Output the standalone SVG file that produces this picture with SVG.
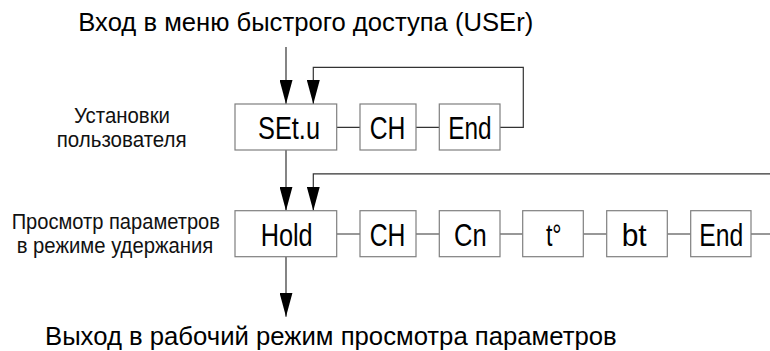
<svg xmlns="http://www.w3.org/2000/svg" width="770" height="351" viewBox="0 0 770 351">
<defs>
<style>
.box{fill:#fff;stroke:#7f7f7f;stroke-width:1.2}
.bt{font-family:"Liberation Sans",Arial,sans-serif;font-size:31.5px;fill:#000;text-anchor:middle}
.lbl{font-family:"Liberation Sans",Arial,sans-serif;font-size:22px;fill:#111;text-anchor:middle}
.big{font-family:"Liberation Sans",Arial,sans-serif;font-size:26.5px;fill:#000}
.ln{fill:none;stroke:#333;stroke-width:1.2}
</style>
<marker id="ah" viewBox="0 0 13 24" refX="6.5" refY="24" markerWidth="13" markerHeight="24" markerUnits="userSpaceOnUse" orient="0">
<path d="M0,0 L13,0 L6.5,24 Z" fill="#000"/>
</marker>
</defs>
<rect width="770" height="351" fill="#fff"/>

<text class="big" x="78.3" y="31" textLength="455" lengthAdjust="spacingAndGlyphs">Вход в меню быстрого доступа (USEr)</text>
<text class="big" x="45" y="345" textLength="571.7" lengthAdjust="spacingAndGlyphs">Выход в рабочий режим просмотра параметров</text>

<g id="label-user">
<text class="lbl" x="122" y="123.3" textLength="96" lengthAdjust="spacingAndGlyphs">Установки</text>
<text class="lbl" x="121.7" y="146.5" textLength="130" lengthAdjust="spacingAndGlyphs">пользователя</text>
</g>
<g id="label-hold">
<text class="lbl" x="115.8" y="229.3" textLength="208.3" lengthAdjust="spacingAndGlyphs">Просмотр параметров</text>
<text class="lbl" x="115" y="252.9" textLength="196.6" lengthAdjust="spacingAndGlyphs">в режиме удержания</text>
</g>

<g id="connectors">
<path class="ln" d="M286,47 V104" marker-end="url(#ah)"/>
<path class="ln" d="M500,127.3 H523.3 V67.3 H313.3 V104" marker-end="url(#ah)"/>
<path class="ln" d="M336.7,127.3 H360 M416,127.3 H439.3"/>
<path class="ln" d="M286,150 V210.7" marker-end="url(#ah)"/>
<path class="ln" d="M770,173.8 H313.3 V210.7" marker-end="url(#ah)"/>
<path class="ln" d="M336.7,234 H360 M416,234 H439.3 M500,234 H522.7 M583.3,234 H606.7 M667.3,234 H690.7 M751,234 H770"/>
<path class="ln" d="M286,256.7 V316.7" marker-end="url(#ah)"/>
</g>

<g id="n-setu"><rect class="box" x="235" y="104" width="101.7" height="46"/><text class="bt" x="289" y="138.8" textLength="62" lengthAdjust="spacingAndGlyphs">SEt.u</text></g>
<g id="n-ch1"><rect class="box" x="360" y="104" width="56" height="46"/><text class="bt" x="387.5" y="138.8" textLength="35.7" lengthAdjust="spacingAndGlyphs">CH</text></g>
<g id="n-end1"><rect class="box" x="439.3" y="104" width="60.7" height="46"/><text class="bt" x="470" y="138.8" textLength="43.4" lengthAdjust="spacingAndGlyphs">End</text></g>

<g id="n-hold"><rect class="box" x="235" y="210.7" width="101.7" height="46"/><text class="bt" x="286.7" y="245.5" textLength="52" lengthAdjust="spacingAndGlyphs">Hold</text></g>
<g id="n-ch2"><rect class="box" x="360" y="210.7" width="56" height="46"/><text class="bt" x="387.5" y="245.5" textLength="35.7" lengthAdjust="spacingAndGlyphs">CH</text></g>
<g id="n-cn"><rect class="box" x="439.3" y="210.7" width="60.7" height="46"/><text class="bt" x="470.3" y="245.5" textLength="32.7" lengthAdjust="spacingAndGlyphs">Cn</text></g>
<g id="n-t"><rect class="box" x="522.7" y="210.7" width="60.6" height="46"/><text class="bt" x="553.8" y="245.5" textLength="15.7" lengthAdjust="spacingAndGlyphs">t°</text></g>
<g id="n-bt"><rect class="box" x="606.7" y="210.7" width="60.6" height="46"/><text class="bt" x="634.2" y="245.5" textLength="25" lengthAdjust="spacingAndGlyphs">bt</text></g>
<g id="n-end2"><rect class="box" x="690.7" y="210.7" width="60.3" height="46"/><text class="bt" x="721.3" y="245.5" textLength="44" lengthAdjust="spacingAndGlyphs">End</text></g>
</svg>
